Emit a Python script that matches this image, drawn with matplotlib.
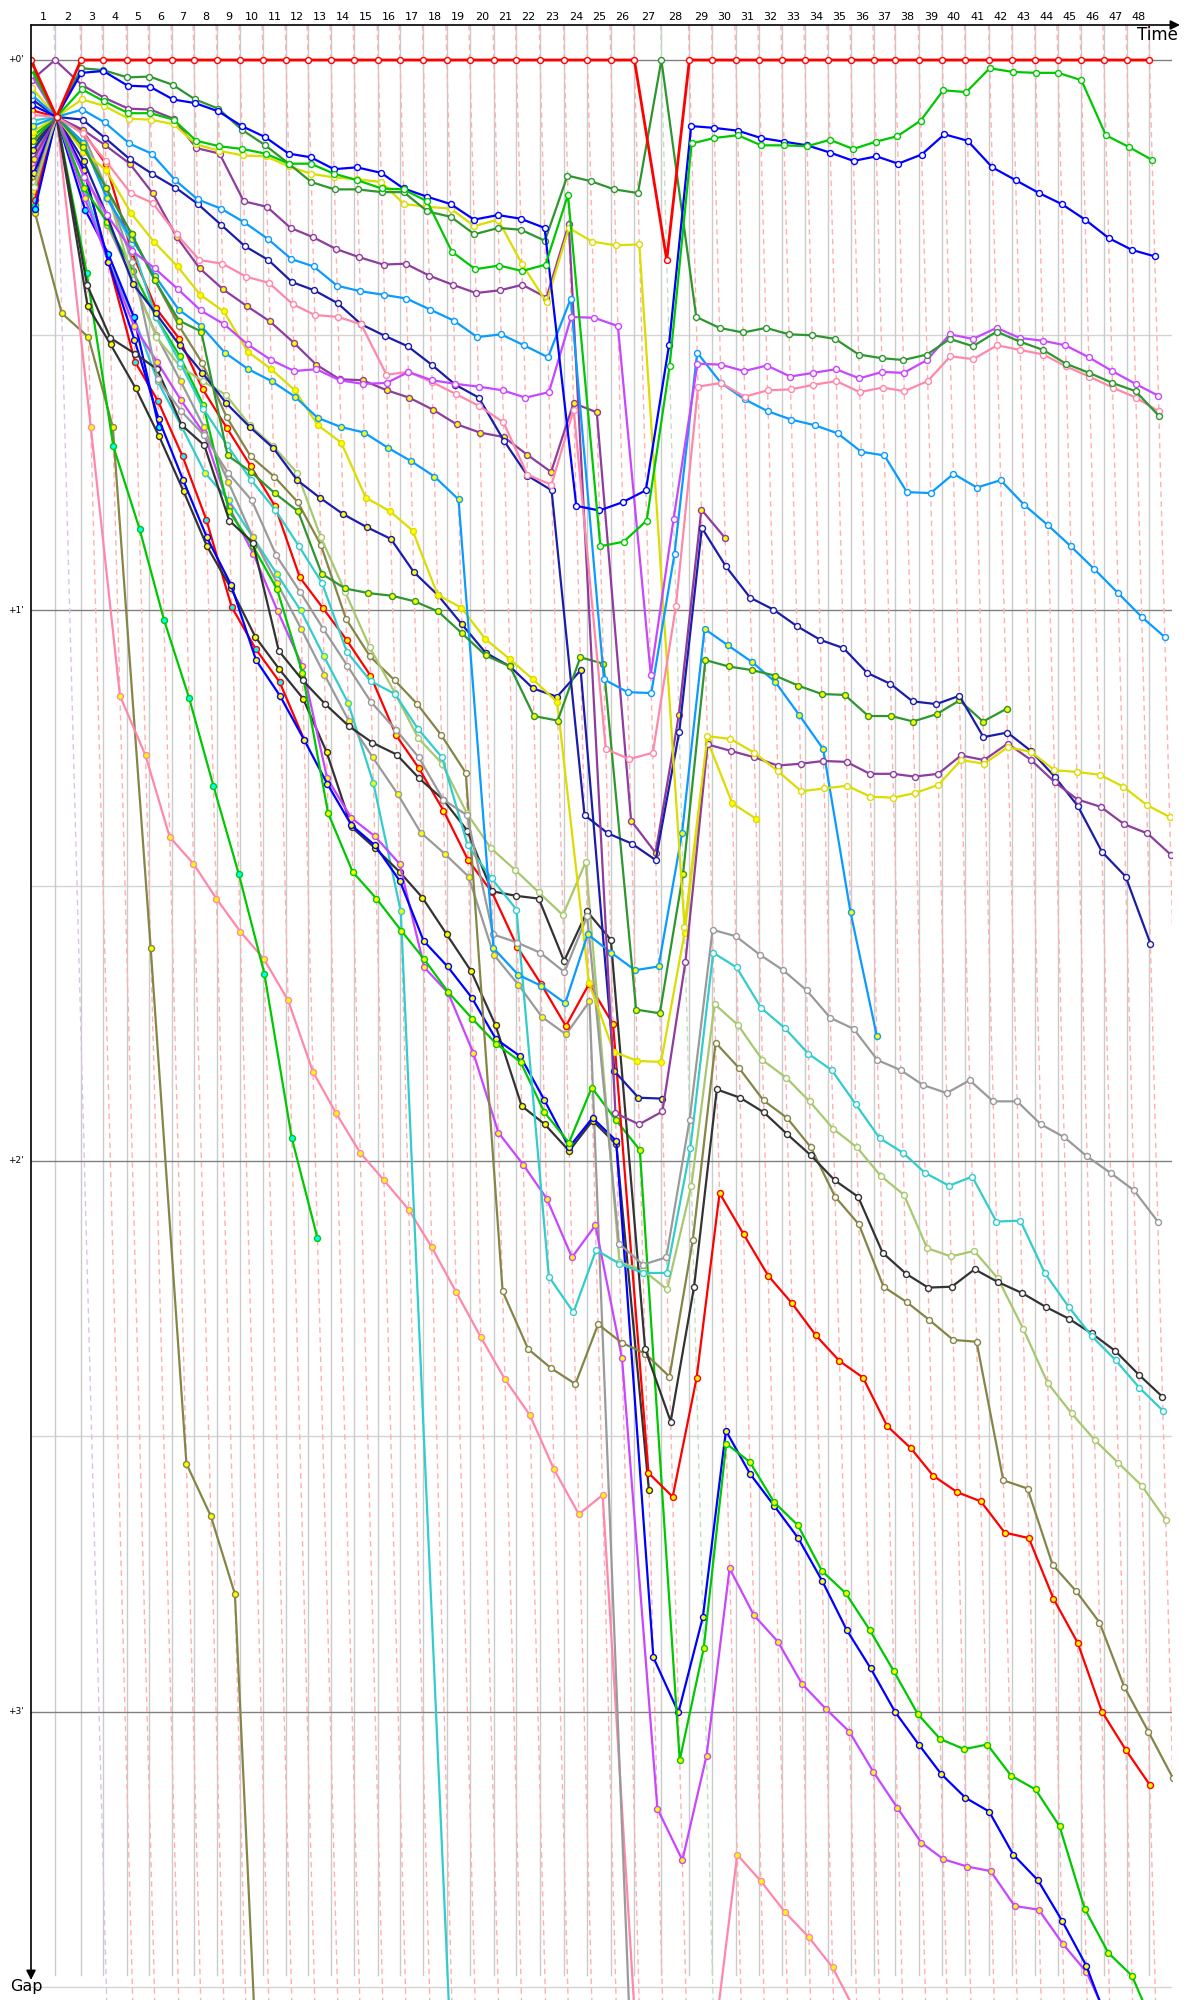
import numpy as np
import matplotlib.pyplot as plt

# --- leader lap times (s), laps 1..48 ---
lead_lap = [98.2, 106.3, 90.0, 98.2, 90.0, 94.1, 90.0, 94.1, 94.1, 94.1, 94.1, 90.0,
            94.1, 94.1, 98.2, 90.0, 95.3, 95.7, 94.1, 98.2, 92.4, 96.9, 99.4, 94.1,
            95.7, 96.5, 110.4, 114.5, 94.1, 95.7, 94.1, 94.1, 94.1, 94.1, 94.1, 94.1,
            88.3, 96.9, 95.3, 94.1, 98.2, 94.1, 94.1, 91.6, 94.1, 94.1, 94.1, 92.4]
lap_labels = [str(i) for i in range(1, 49)]
gap_ticks = [0, 60, 120, 180]
gap_tick_labels = ["+0'", "+1'", "+2'", "+3'"]

# --- gaps to leader (s), index = lap number (0 = start) ---
red_1 = [0.0, 6.2, 0.0, 0.0, 0.0, 0.0, 0.0, 0.0, 0.0, 0.0, 0.0, 0.0, 0.0, 0.0, 0.0, 0.0, 0.0,
         0.0, 0.0, 0.0, 0.0, 0.0, 0.0, 0.0, 0.0, 0.0, 0.0, 21.8, 0.0, 0.0, 0.0, 0.0, 0.0, 0.0,
         0.0, 0.0, 0.0, 0.0, 0.0, 0.0, 0.0, 0.0, 0.0, 0.0, 0.0, 0.0, 0.0, 0.0, 0.0]
red_2 = [5.5, 6.2, 7.8, 11.3, 21.0, 27.0, 30.4, 35.9, 40.1, 44.3, 48.6, 56.4, 59.7, 63.2, 67.1,
         73.6, 77.2, 81.8, 87.2, 90.7, 96.7, 100.7, 105.3, 100.7, 105.1, 154.0, 156.6, 143.7,
         123.5, 128.0, 132.5, 135.5, 139.0, 141.8, 143.6, 148.9, 151.3, 154.3, 156.1, 157.1,
         160.5, 161.1, 167.7, 172.5, 180.0, 184.2, 188.0]
red_3 = [15.3, 6.2, 12.0, 22.0, 32.9, 37.2, 43.2, 50.1, 59.6, 64.2, 67.8, 74.1]
green_1 = [1.0, 6.2, 3.2, 4.5, 5.8, 5.8, 6.5, 8.8, 9.4, 9.7, 10.2, 11.3, 11.3, 12.4, 13.1, 14.0,
           14.1, 15.4, 20.9, 22.8, 22.4, 23.0, 22.3, 14.7, 53.0, 52.5, 50.2, 33.4, 9.1, 8.5, 8.2,
           9.3, 9.3, 9.4, 8.7, 9.7, 8.9, 8.3, 6.6, 3.3, 3.5, 0.9, 1.3, 1.4, 1.4, 2.2, 8.2, 9.5, 10.9]
green_2 = [8.3, 6.2, 14.0, 17.7, 23.0, 28.0, 32.3, 37.6, 49.2, 53.0, 57.7, 66.8, 82.1, 88.5, 91.4,
           94.9, 98.0, 101.6, 104.5, 107.2, 109.2, 114.7, 118.0, 112.0, 115.5, 118.8, 185.3, 173.1,
           150.8, 152.8, 157.2, 159.7, 164.7, 167.1, 171.1, 175.6, 180.3, 183.0, 184.1, 183.6,
           187.0, 188.5, 192.5, 201.5, 206.3, 208.8, 215.0]
green_3 = [15.8, 6.2, 23.2, 42.1, 51.1, 61.0, 69.5, 79.1, 88.7, 99.6, 117.5, 128.4]
blue_1 = [4.9, 6.2, 1.4, 1.2, 2.8, 2.9, 4.3, 4.7, 5.6, 7.2, 8.4, 10.2, 10.6, 11.9, 11.7, 12.3, 14.0,
          14.9, 15.7, 17.4, 16.9, 17.3, 18.3, 48.6, 49.1, 48.2, 46.9, 31.1, 7.2, 7.4, 7.7, 8.5, 8.9,
          9.3, 10.1, 11.0, 10.5, 11.3, 10.3, 8.1, 8.8, 11.7, 13.1, 14.5, 15.7, 17.4, 19.4, 20.7, 21.4]
blue_2 = [12.3, 6.2, 12.0, 22.0, 30.5, 39.1, 45.8, 52.0, 57.2, 65.4, 69.3, 74.1, 78.9, 83.4, 85.6,
          89.5, 96.0, 98.8, 102.2, 106.7, 108.6, 113.3, 118.5, 115.3, 117.8, 174.1, 180.1, 169.7,
          149.4, 154.1, 157.6, 161.1, 165.8, 171.1, 175.3, 180.0, 183.6, 186.8, 189.4, 190.9,
          195.6, 198.4, 202.8, 207.7, 214.6]
blue_3 = [16.2, 6.2, 16.3, 21.1, 28.0, 40.0]
dkgreen_1 = [0.5, 6.2, 0.9, 1.1, 1.9, 1.8, 2.7, 4.3, 5.3, 7.6, 9.3, 11.3, 13.3, 14.1, 14.1, 14.4,
             14.4, 16.5, 17.1, 19.0, 18.3, 18.5, 19.7, 12.6, 13.2, 14.1, 14.5, 0.0, 28.0, 29.2,
             29.7, 29.2, 29.9, 30.0, 30.4, 32.1, 32.5, 32.7, 32.1, 30.4, 31.2, 29.6, 30.7, 31.6,
             33.1, 34.1, 35.2, 36.1, 38.8]
dkgreen_2 = [8.8, 6.2, 9.5, 14.0, 19.0, 24.0, 28.4, 29.6, 43.1, 44.9, 47.2, 49.2, 56.0, 57.6, 58.1,
             58.4, 59.0, 60.1, 62.5, 64.9, 66.1, 71.5, 72.0, 65.1, 65.8, 103.5, 103.9, 88.7, 65.4,
             66.1, 66.5, 67.1, 68.2, 69.1, 69.2, 71.5, 71.5, 72.1, 71.3, 69.8, 72.1, 70.7]
purple_1 = [2.2, 0.0, 2.7, 4.1, 5.3, 5.4, 6.4, 9.6, 10.2, 15.4, 16.0, 18.3, 19.3, 20.6, 21.5, 22.3,
            22.2, 23.5, 24.5, 25.4, 25.1, 24.5, 25.9, 17.9, 114.8, 116.0, 114.6, 98.3, 74.6, 75.3,
            76.0, 76.9, 76.7, 76.4, 76.5, 77.8, 77.8, 78.1, 77.8, 75.8, 76.3, 74.5, 76.3, 78.7,
            80.6, 81.4, 83.3, 84.3, 86.6]
purple_2 = [10.8, 6.2, 7.6, 9.3, 11.3, 14.5, 19.3, 22.7, 25.0, 26.8, 28.5, 30.8, 33.2, 34.8, 34.9,
            36.0, 36.8, 38.1, 39.7, 40.6, 41.1, 43.0, 44.9, 37.4, 38.4, 82.9, 86.4, 71.4, 49.0, 52.1]
violet_1 = [1.6, 6.2, 12.7, 16.9, 20.8, 22.7, 25.0, 27.3, 28.8, 31.0, 32.7, 33.9, 33.7, 34.9, 35.3,
            35.2, 34.0, 34.9, 35.3, 35.6, 36.0, 36.8, 36.2, 28.0, 28.1, 29.0, 67.0, 50.0, 33.1,
            33.2, 33.9, 33.3, 34.5, 34.1, 33.7, 34.7, 34.0, 34.1, 32.7, 29.9, 30.4, 29.2, 30.3,
            30.6, 31.1, 32.4, 33.9, 35.3, 36.6]
violet_2 = [11.8, 6.2, 15.0, 22.0, 29.0, 32.9, 37.1, 40.7, 48.7, 53.8, 60.1, 66.0, 78.3, 82.6, 84.6,
            87.6, 98.9, 101.7, 108.2, 116.9, 120.4, 124.1, 130.5, 127.0, 141.5, 190.6, 196.2,
            184.8, 164.4, 169.5, 172.4, 177.0, 179.7, 182.2, 186.6, 190.5, 194.3, 196.1, 196.9,
            197.4, 201.2, 201.6, 205.3, 208.4, 214.0]
pink_1 = [6.0, 6.2, 8.0, 11.0, 14.5, 15.6, 19.0, 21.8, 22.2, 23.6, 24.3, 26.6, 27.8, 28.0, 28.8,
          34.3, 34.0, 35.1, 36.4, 37.7, 39.5, 45.2, 46.3, 38.1, 75.1, 76.2, 75.5, 59.5, 35.6, 35.2,
          36.7, 36.0, 35.9, 35.4, 35.0, 36.2, 35.7, 36.1, 35.0, 32.3, 32.6, 31.1, 31.6, 32.1,
          33.4, 34.5, 35.7, 36.8, 38.3]
pink_2 = [11.3, 6.2, 40.0, 69.3, 75.8, 84.7, 87.6, 91.4, 95.0, 98.0, 102.5, 110.3, 114.8, 119.1,
          122.1, 125.3, 129.4, 134.3, 139.2, 143.8, 147.7, 153.6, 158.5, 156.4, 228.0, 232.0,
          236.0, 216.0, 195.6, 198.5, 201.9, 204.6, 207.9, 213.0, 218.0]
ltblue_1 = [3.8, 6.2, 5.4, 6.8, 9.1, 10.2, 13.1, 15.2, 16.2, 17.7, 19.5, 21.7, 22.5, 24.6, 25.2,
            25.6, 26.0, 27.2, 28.4, 30.2, 29.9, 31.1, 32.4, 26.0, 67.5, 68.9, 69.0, 53.8, 31.9,
            35.2, 37.0, 38.3, 39.2, 39.8, 40.7, 42.7, 43.1, 47.1, 47.2, 45.1, 46.6, 45.8, 48.5,
            50.7, 53.0, 55.5, 58.1, 60.7, 62.9]
ltblue_2 = [7.2, 6.2, 9.0, 15.0, 19.5, 23.5, 27.2, 29.0, 31.9, 33.7, 35.0, 36.7, 39.0, 40.0, 40.6,
            42.3, 43.7, 45.4, 47.9, 96.8, 99.7, 100.9, 102.8, 95.3, 97.3, 99.2, 98.8, 84.3, 62.0,
            63.8, 65.6, 67.8, 71.4, 75.1, 92.9, 106.4]
yellow_1 = [3.0, 6.2, 4.3, 5.0, 6.4, 6.5, 7.0, 9.2, 9.9, 10.4, 10.5, 11.6, 12.4, 12.8, 13.0, 13.3,
            15.7, 16.0, 16.2, 18.1, 17.4, 22.2, 26.4, 18.3, 19.8, 20.2, 20.1, 94.5, 73.7, 74.0,
            75.5, 77.5, 79.7, 79.4, 79.1, 80.3, 80.4, 79.9, 79.0, 76.3, 76.7, 74.9, 75.4, 77.4,
            77.6, 77.9, 79.2, 81.2, 82.5]
yellow_2 = [7.8, 6.2, 10.0, 12.0, 16.7, 19.8, 22.5, 25.6, 27.4, 31.8, 33.7, 36.0, 39.8, 41.7, 47.7,
            49.2, 51.3, 58.3, 59.7, 63.1, 65.3, 67.5, 70.0, 100.6, 108.1, 109.1, 109.2, 95.1, 74.2,
            81.0, 82.7]
navy_1 = [4.3, 6.2, 6.5, 8.5, 10.8, 12.4, 13.9, 15.7, 18.0, 20.3, 21.8, 24.2, 25.1, 26.5, 28.8,
          30.1, 31.2, 33.2, 35.4, 36.8, 41.5, 45.3, 46.9, 82.3, 84.3, 85.4, 87.2, 73.2, 51.0, 55.2,
          58.6, 59.9, 61.7, 63.2, 64.1, 66.8, 68.0, 69.9, 70.2, 69.3, 73.8, 73.3, 75.3, 78.1,
          81.3, 86.3, 89.0, 96.3]
navy_2 = [9.8, 6.2, 11.0, 17.0, 24.4, 27.6, 31.1, 34.1, 37.4, 40.0, 42.3, 45.8, 47.7, 49.5, 50.9,
          52.2, 55.8, 58.3, 61.5, 64.6, 66.1, 68.5, 69.4, 66.5, 110.2, 113.1, 113.2]
cyan_1 = [6.6, 6.2, 9.0, 15.0, 20.0, 28.0, 33.0, 38.0, 42.0, 45.8, 49.0, 53.0, 57.0, 64.5, 67.7,
          69.1, 72.9, 76.0, 85.6, 89.2, 92.6, 132.6, 136.5, 129.7, 131.2, 132.2, 132.2, 118.6,
          97.3, 98.9, 103.3, 105.5, 108.3, 110.1, 113.8, 117.5, 119.1, 121.3, 122.7, 121.7,
          126.6, 126.5, 132.2, 135.9, 139.1, 141.7, 144.7, 147.2]
cyan_2 = [14.8, 6.2, 14.0, 22.0, 28.0, 35.0, 40.0, 45.0, 48.0, 52.0, 56.0, 60.0, 65.0, 70.1, 78.8,
          92.8, 231.0]
gray_1 = [10.3, 6.2, 8.0, 14.0, 22.0, 34.8, 38.3, 40.9, 45.0, 48.0, 54.0, 58.0, 62.0, 66.0, 70.0,
          73.0, 76.0, 80.6, 82.3, 95.3, 96.2, 97.3, 99.4, 93.3, 129.0, 131.3, 130.5, 115.5, 94.8,
          95.5, 97.5, 99.2, 101.4, 104.4, 105.6, 109.0, 110.1, 111.7, 112.6, 111.2, 113.5, 113.5,
          116.0, 117.4, 119.5, 121.3, 123.2, 126.6]
gray_2 = [14.3, 6.2, 12.0, 18.0, 24.0, 30.0, 35.0, 40.0, 46.0, 52.0, 57.0, 62.0, 67.0, 72.0, 76.0,
          80.0, 84.2, 86.5, 89.0, 97.5, 100.8, 104.3, 106.2, 102.6, 300.0]
olive_1 = [13.3, 6.2, 9.0, 14.0, 19.0, 24.0, 29.0, 33.0, 38.9, 43.2, 45.4, 48.2, 52.9, 60.9, 65.0,
           67.6, 70.2, 73.6, 77.7, 134.2, 140.5, 142.6, 144.3, 137.8, 139.8, 141.0, 143.5, 128.6,
           107.1, 109.9, 113.4, 115.3, 118.5, 123.9, 126.9, 133.7, 135.4, 137.3, 139.5, 139.7,
           154.8, 155.7, 164.0, 166.9, 170.3, 177.3, 182.2, 187.2]
olive_2 = [16.7, 27.6, 30.2, 40.0, 96.8, 153.0, 158.7, 167.2, 294.0]
black_1 = [9.3, 6.2, 24.5, 30.3, 32.0, 33.7, 39.8, 42.0, 50.2, 52.6, 64.4, 67.6, 70.2, 72.6, 74.4,
           75.7, 78.3, 80.6, 84.0, 90.6, 91.1, 91.4, 98.2, 92.8, 95.9, 140.5, 148.4, 133.7, 112.2,
           113.1, 114.7, 117.1, 119.4, 122.1, 123.9, 130.0, 132.3, 133.8, 133.7, 131.8, 133.2,
           134.4, 135.9, 137.2, 138.8, 140.7, 143.3, 145.7]
black_2 = [12.8, 6.2, 26.8, 31.0, 35.8, 41.0, 47.0, 53.0, 57.6, 62.9, 66.4, 69.6, 75.4, 83.6, 85.9,
           88.5, 91.3, 95.3, 99.3, 105.2, 114.0, 116.0, 118.9, 115.6, 118.2, 155.9]
ygreen_1 = [13.8, 6.2, 9.0, 14.0, 24.0, 30.2, 33.4, 35.0, 36.5, 39.8, 42.1, 45.0, 52.0, 58.0, 64.0,
            69.0, 73.9, 76.7, 82.1, 85.9, 88.3, 90.7, 93.2, 87.4, 131.0, 131.9, 134.0, 122.7,
            102.9, 105.2, 109.0, 110.9, 113.5, 116.5, 118.5, 121.6, 123.7, 129.5, 130.4, 129.8,
            132.8, 138.3, 144.2, 147.5, 150.4, 152.9, 155.4, 159.1]

# line colour, marker fill
RED, GREEN, BLUE, DKGREEN = '#ff0000', '#00c800', '#0000ff', '#2e962e'
PURPLE, VIOLET, PINK, LTBLUE = '#8e3c9e', '#c846ff', '#ff88aa', '#0a9bff'
YELLOW, NAVY, CYAN, GRAY = '#dcdc00', '#1c1caa', '#33cccc', '#9a9a9a'
OLIVE, BLACK, YGREEN = '#858548', '#333333', '#a8c870'
W, Y, C = 'white', '#ffff00', '#00ffff'

series = [
    (olive_2, OLIVE, Y), (pink_2, PINK, Y), (green_3, GREEN, C), (cyan_2, CYAN, Y),
    (gray_2, GRAY, Y), (red_3, RED, C), (blue_3, BLUE, C), (black_2, BLACK, Y),
    (violet_2, VIOLET, Y), (blue_2, BLUE, Y), (green_2, GREEN, Y), (red_2, RED, Y),
    (olive_1, OLIVE, W), (ygreen_1, YGREEN, W), (black_1, BLACK, W), (cyan_1, CYAN, W),
    (gray_1, GRAY, W), (navy_2, NAVY, Y), (yellow_2, YELLOW, Y), (ltblue_2, LTBLUE, Y),
    (dkgreen_2, DKGREEN, Y), (purple_2, PURPLE, Y), (navy_1, NAVY, W), (purple_1, PURPLE, W),
    (yellow_1, YELLOW, W), (ltblue_1, LTBLUE, W), (pink_1, PINK, W), (violet_1, VIOLET, W),
    (dkgreen_1, DKGREEN, W), (blue_1, BLUE, W), (green_1, GREEN, W), (red_1, RED, W),
]

cum = np.concatenate([[0.0], np.cumsum(lead_lap)])
PX_X = 0.2445          # pixels per second along time axis
PX_Y = 9.175           # pixels per second along gap axis
W_PX, H_PX = 1200, 2000
LEFT, TOP, RIGHT = 31, 25, 1172
g_top = (TOP - 60) / PX_Y
g_bot = g_top + (H_PX - TOP) / PX_Y

fig = plt.figure(figsize=(12, 20), dpi=100)
ax = fig.add_axes([LEFT / W_PX, 0, (RIGHT - LEFT) / W_PX, (H_PX - TOP) / H_PX])
ax.set_xlim(0, (RIGHT - LEFT) / PX_X)
ax.set_ylim(g_bot, g_top)
ax.axis('off')

# grid: minute and half minute
for g in [30, 90, 150, 210]:
    ax.axhline(g, color='#d4d4d4', lw=1, zorder=1)
for g in gap_ticks:
    ax.axhline(g, color='#808080', lw=1, zorder=1.2)

# lap lines: vertical grey + slanted dashed
g_line_end = (1975 - 60) / PX_Y
for n in range(1, 49):
    ax.plot([cum[n], cum[n]], [g_top, g_line_end], color='#cbcbcb', lw=1, zorder=1.1)
    dcol = '#ffb0b0'
    if n == 1:
        dcol = '#dcc2ea'
    elif n == 27:
        dcol = '#bfe0bf'
    ax.plot([cum[n] + g_top, cum[n] + 220], [g_top, 220], color=dcol, lw=1,
            ls=(0, (4, 3)), zorder=1.3)

# driver lines
for gaps, col, fill in series:
    laps = np.arange(len(gaps))
    g = np.array(gaps, dtype=float)
    x = cum[laps] + g
    lw = 2.0 if gaps is red_1 else 1.6
    ax.plot(x, g, color=col, lw=lw, marker='o', ms=4.3, mfc=fill, mec=col, mew=1.0,
            zorder=3, clip_on=True)

# lap labels
for n in range(1, 49):
    ax.text((cum[n - 1] + cum[n]) / 2, (17 - 60) / PX_Y, lap_labels[n - 1], ha='center',
            va='center', fontsize=8, clip_on=False)

# gap labels
for g, lab in zip(gap_ticks, gap_tick_labels):
    ax.text((16 - LEFT) / PX_X, g, lab, ha='center', va='center', fontsize=6.5, clip_on=False)

# axes arrows
ax.annotate('', xy=(1180, H_PX - TOP), xytext=(LEFT, H_PX - TOP), xycoords='figure pixels',
            textcoords='figure pixels',
            arrowprops=dict(arrowstyle='-|>', color='black', lw=1.2, mutation_scale=14,
                            shrinkA=0, shrinkB=0), annotation_clip=False)
ax.annotate('', xy=(LEFT, H_PX - 1980), xytext=(LEFT, H_PX - TOP), xycoords='figure pixels',
            textcoords='figure pixels',
            arrowprops=dict(arrowstyle='-|>', color='black', lw=1.2, mutation_scale=14,
                            shrinkA=0, shrinkB=0), annotation_clip=False)
fig.text(1178 / W_PX, 1 - 35 / H_PX, 'Time', ha='right', va='center', fontsize=12)
fig.text(10 / W_PX, 1 - 1986 / H_PX, 'Gap', ha='left', va='center', fontsize=11.5)

fig.savefig('out.png', dpi=100)
